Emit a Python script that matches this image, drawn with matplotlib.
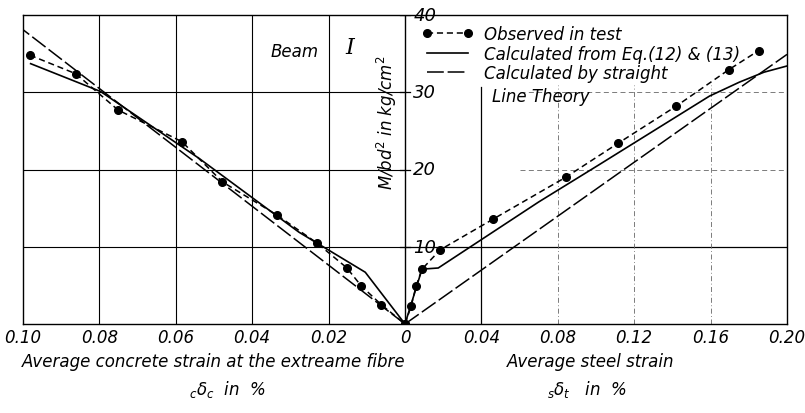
import matplotlib.pyplot as plt
from matplotlib.lines import Line2D

# Observed values (strain in %, M/bd^2 in kg/cm^2)
obs_conc_strain = [0.0982, 0.0862, 0.0751, 0.0584, 0.0478, 0.0335, 0.0231, 0.0153, 0.0114, 0.0062, 0.0]
obs_conc_M = [34.8, 32.4, 27.7, 23.6, 18.4, 14.1, 10.5, 7.3, 4.9, 2.5, 0.0]
obs_steel_strain = [0.0, 0.0032, 0.0058, 0.0089, 0.0184, 0.0463, 0.0842, 0.1116, 0.142, 0.1694, 0.1852]
obs_steel_M = [0.0, 2.3, 4.9, 7.1, 9.6, 13.6, 19.0, 23.4, 28.2, 32.9, 35.4]

# Calculated from Eq.(12) & (13)
calc_conc_strain = [0.098, 0.0797, 0.0538, 0.0278, 0.0104, 0.0]
calc_conc_M = [33.7, 30.1, 21.4, 11.9, 6.7, 0.0]
calc_steel_strain = [0.0, 0.0089, 0.0174, 0.070, 0.1015, 0.1594, 0.175, 0.188, 0.20]
calc_steel_M = [0.0, 7.1, 7.25, 15.8, 20.6, 29.5, 31.3, 32.6, 33.4]

# Straight line theory
line_conc_strain = [0.0, 0.10]
line_conc_M = [0.0, 38.1]
line_steel_strain = [0.0, 0.20]
line_steel_M = [0.0, 34.9]

conc_ticks = [0.10, 0.08, 0.06, 0.04, 0.02]
steel_ticks = [0.04, 0.08, 0.12, 0.16, 0.20]
y_ticks = [10, 20, 30, 40]


# left half: concrete strain (0.10 -> 0), right half: steel strain at half scale
def conc_x(vals):
    return [-v for v in vals]


def steel_x(vals):
    return [v / 2 for v in vals]


fig = plt.figure(figsize=(8.05, 4.14), dpi=100)
ax = fig.add_axes([23 / 805, 1 - 325 / 414, 764 / 805, 309 / 414])
ax.set_xlim(-0.10, 0.10)
ax.set_ylim(0, 40)

# grid
for t in conc_ticks[1:]:
    ax.plot([-t, -t], [0, 40], color='black', lw=0.8)
for m in y_ticks[:-1]:
    ax.plot([-0.10, 0], [m, m], color='black', lw=0.8)
ax.plot([0, 0.10], [10, 10], color='black', lw=0.9)
for m in [20, 30]:
    ax.plot([0.03, 0.10], [m, m], color='0.4', lw=0.6, ls=(0, (6, 4)))
ax.plot([0.02, 0.02], [0, 30.7], color='black', lw=0.9)
for t in steel_ticks[1:-1]:
    ax.plot([t / 2, t / 2], [0, 31], color='0.4', lw=0.6, ls=(0, (6, 3, 1, 3)))
ax.axvline(0, color='black', lw=1.0)

style_obs = dict(color='black', lw=1.1, dashes=(4, 2.5), marker='o', ms=5.5)
style_calc = dict(color='black', lw=1.2)
style_line = dict(color='black', lw=1.1, dashes=(11, 2.5))

ax.plot(conc_x(obs_conc_strain), obs_conc_M, **style_obs)
ax.plot(steel_x(obs_steel_strain), obs_steel_M, **style_obs)
ax.plot(conc_x(calc_conc_strain), calc_conc_M, **style_calc)
ax.plot(steel_x(calc_steel_strain), calc_steel_M, **style_calc)
ax.plot(conc_x(line_conc_strain), line_conc_M, **style_line)
ax.plot(steel_x(line_steel_strain), line_steel_M, **style_line)

# ticks
xt = [-t for t in conc_ticks] + [0] + [t / 2 for t in steel_ticks]
xl = ['%.2f' % t for t in conc_ticks] + ['0'] + ['%.2f' % t for t in steel_ticks]
ax.set_xticks(xt)
ax.set_xticklabels(xl, fontstyle='italic', fontsize=12)
ax.tick_params(axis='x', length=0, pad=3)
ax.set_yticks([])
for m in y_ticks:
    ax.plot([-0.0012, 0.0012], [m, m], color='black', lw=0.9)
    ax.text(0.0022, m, str(m), ha='left', va='center', fontsize=13, fontstyle='italic')
for s in ax.spines.values():
    s.set_linewidth(1.0)

ax.text(-0.0047, 26.2, 'M/bd$^2$ in kg/cm$^2$', rotation=90, ha='center', va='center',
        fontsize=12, fontstyle='italic')
ax.text(-0.029, 35.4, 'Beam', ha='center', va='center', fontsize=12, fontstyle='italic')
ax.text(-0.0144, 35.9, 'I', ha='center', va='center', fontsize=16, fontstyle='italic',
        family='DejaVu Serif')

handles = [Line2D([], [], **style_obs), Line2D([], [], **style_calc), Line2D([], [], **style_line)]
labels = ['Observed in test', 'Calculated from Eq.(12) & (13)', 'Calculated by straight']
ax.legend(handles, labels, loc='upper left', bbox_to_anchor=(0.522, 0.968), frameon=False,
          prop=dict(size=12, style='italic'), handlelength=3.1, handletextpad=0.65,
          labelspacing=0.1, numpoints=2, borderaxespad=0, borderpad=0)
ax.text(0.0228, 29.5, 'Line Theory', ha='left', va='center', fontsize=12, fontstyle='italic')

fig.text(214 / 805, 1 - 362 / 414, 'Average concrete strain at the extreame fibre',
         ha='center', va='center', fontsize=12, fontstyle='italic')
fig.text(227 / 805, 1 - 390 / 414, r'$_c\delta_c$  in  %', ha='center', va='center',
         fontsize=12, fontstyle='italic')
fig.text(591 / 805, 1 - 362 / 414, 'Average steel strain', ha='center', va='center',
         fontsize=12, fontstyle='italic')
fig.text(587 / 805, 1 - 390 / 414, r'$_s\delta_t$   in  %', ha='center', va='center',
         fontsize=12, fontstyle='italic')

fig.savefig('out.png', dpi=100)
